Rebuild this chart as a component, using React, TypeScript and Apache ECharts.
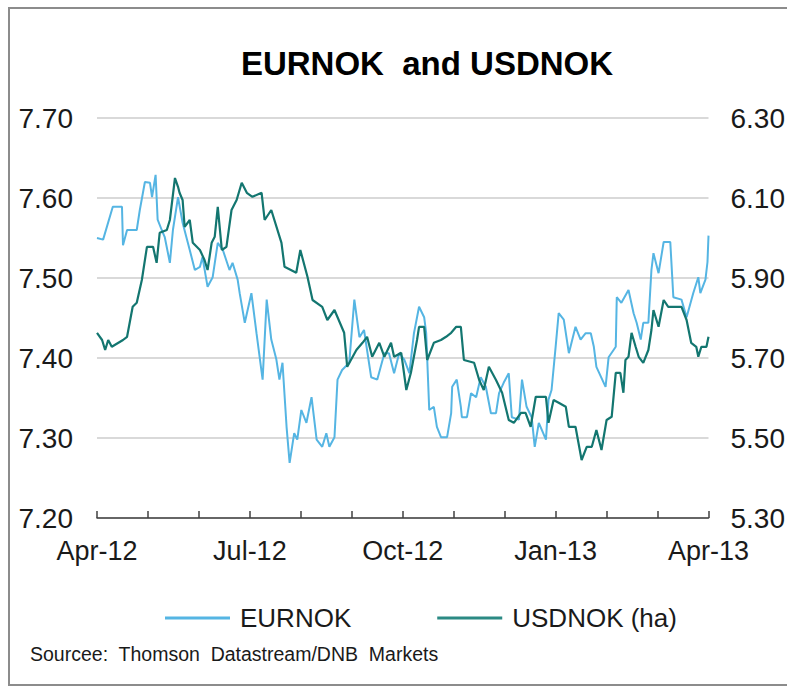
import React, { useEffect, useRef } from "react";
import * as echarts from "echarts";

// x positions are in months since start of Apr-12 (0 = Apr-12, 12 = Apr-13)
const monthLabels = ["Apr-12", "Jul-12", "Oct-12", "Jan-13", "Apr-13"];

const eurMonth = [
  0.0, 0.12, 0.31, 0.49, 0.51, 0.59, 0.78, 0.84, 0.94, 1.04, 1.08, 1.15, 1.19, 1.27, 1.33, 1.43, 1.49, 1.59, 1.68,
  1.82, 1.92, 2.02, 2.07, 2.17, 2.27, 2.37, 2.47, 2.6, 2.66, 2.76, 2.8, 2.9, 3.03, 3.13, 3.25, 3.33, 3.42, 3.52,
  3.58, 3.64, 3.72, 3.78, 3.87, 3.93, 4.01, 4.11, 4.21, 4.31, 4.42, 4.5, 4.56, 4.66, 4.72, 4.81, 4.95, 5.05, 5.15,
  5.24, 5.38, 5.5, 5.64, 5.73, 5.83, 5.93, 6.03, 6.13, 6.22, 6.32, 6.42, 6.46, 6.52, 6.61, 6.67, 6.75, 6.87, 6.95,
  6.97, 7.06, 7.14, 7.16, 7.26, 7.34, 7.44, 7.53, 7.63, 7.73, 7.83, 7.89, 7.98, 8.08, 8.14, 8.28, 8.34, 8.43, 8.53,
  8.59, 8.67, 8.81, 8.86, 8.92, 9.0, 9.06, 9.16, 9.26, 9.39, 9.49, 9.59, 9.69, 9.75, 9.8, 9.98, 10.04, 10.18, 10.2,
  10.29, 10.43, 10.53, 10.59, 10.67, 10.72, 10.82, 10.88, 10.92, 11.02, 11.12, 11.25, 11.31, 11.47, 11.57, 11.7,
  11.8, 11.84, 11.94, 11.98, 12.0,
];
const eurValue = [
  7.55, 7.548, 7.589, 7.589, 7.541, 7.56, 7.56, 7.585, 7.62, 7.619, 7.601, 7.629, 7.573, 7.56, 7.551, 7.519, 7.56,
  7.601, 7.569, 7.535, 7.51, 7.514, 7.526, 7.489, 7.501, 7.544, 7.535, 7.51, 7.519, 7.498, 7.481, 7.444, 7.481,
  7.431, 7.373, 7.473, 7.423, 7.398, 7.373, 7.394, 7.314, 7.269, 7.306, 7.298, 7.335, 7.319, 7.351, 7.298, 7.289,
  7.306, 7.289, 7.301, 7.373, 7.385, 7.394, 7.473, 7.426, 7.435, 7.376, 7.373, 7.406, 7.406, 7.381, 7.406, 7.398,
  7.381, 7.431, 7.464, 7.451, 7.431, 7.335, 7.339, 7.314, 7.301, 7.301, 7.331, 7.364, 7.373, 7.339, 7.326, 7.326,
  7.356, 7.351, 7.376, 7.364, 7.331, 7.331, 7.356, 7.369, 7.381, 7.326, 7.323, 7.373, 7.339, 7.326, 7.289, 7.319,
  7.298, 7.348, 7.36, 7.414, 7.456, 7.448, 7.406, 7.439, 7.423, 7.431, 7.431, 7.414, 7.389, 7.364, 7.401, 7.414,
  7.476, 7.469, 7.485, 7.456, 7.444, 7.423, 7.444, 7.444, 7.51, 7.531, 7.506, 7.545, 7.545, 7.476, 7.473, 7.451,
  7.481, 7.501, 7.481, 7.498, 7.52, 7.553,
];

const usdMonth = [
  0.0, 0.1, 0.16, 0.22, 0.29, 0.51, 0.59, 0.7, 0.78, 0.88, 0.98, 1.1, 1.17, 1.23, 1.37, 1.43, 1.53, 1.59, 1.62,
  1.68, 1.72, 1.82, 1.88, 2.02, 2.11, 2.17, 2.25, 2.31, 2.37, 2.45, 2.54, 2.64, 2.74, 2.84, 2.94, 3.05, 3.23, 3.29,
  3.42, 3.62, 3.68, 3.91, 3.99, 4.13, 4.23, 4.42, 4.52, 4.66, 4.85, 4.91, 5.09, 5.21, 5.3, 5.4, 5.54, 5.64, 5.77,
  5.83, 5.97, 6.07, 6.16, 6.28, 6.32, 6.42, 6.48, 6.61, 6.75, 6.85, 6.95, 7.05, 7.14, 7.2, 7.4, 7.5, 7.59, 7.69,
  7.83, 7.95, 8.08, 8.18, 8.32, 8.41, 8.51, 8.61, 8.81, 8.86, 8.96, 9.06, 9.2, 9.26, 9.39, 9.51, 9.61, 9.71, 9.8,
  9.9, 10.0, 10.1, 10.18, 10.27, 10.33, 10.37, 10.43, 10.49, 10.57, 10.63, 10.72, 10.82, 10.88, 10.92, 11.02, 11.12,
  11.21, 11.47, 11.57, 11.66, 11.76, 11.8, 11.86, 11.96, 12.0,
];
const usdValue = [
  5.763, 5.745, 5.72, 5.745, 5.728, 5.745, 5.753, 5.828, 5.838, 5.895, 5.978, 5.978, 5.938, 6.013, 6.02, 6.045,
  6.15, 6.128, 6.113, 6.095, 6.028, 6.045, 5.988, 5.97, 5.945, 5.92, 5.988, 6.003, 6.078, 5.97, 5.978, 6.07, 6.095,
  6.138, 6.113, 6.103, 6.113, 6.045, 6.07, 5.988, 5.928, 5.913, 5.97, 5.903, 5.845, 5.828, 5.795, 5.82, 5.763,
  5.678, 5.72, 5.738, 5.753, 5.703, 5.738, 5.703, 5.738, 5.703, 5.713, 5.62, 5.663, 5.745, 5.778, 5.778, 5.695,
  5.738, 5.745, 5.753, 5.763, 5.778, 5.778, 5.695, 5.688, 5.645, 5.62, 5.678, 5.645, 5.613, 5.545, 5.538, 5.563,
  5.563, 5.528, 5.603, 5.603, 5.538, 5.595, 5.588, 5.578, 5.528, 5.528, 5.445, 5.478, 5.478, 5.52, 5.47, 5.545,
  5.553, 5.663, 5.663, 5.613, 5.695, 5.703, 5.763, 5.728, 5.703, 5.688, 5.72, 5.77, 5.82, 5.778, 5.845, 5.828,
  5.828, 5.795, 5.738, 5.728, 5.703, 5.728, 5.728, 5.753,
];

const FONT = "'Liberation Sans', Arial, sans-serif";
const TEXT = "#1a1a1a";

export default function App() {
  const ref = useRef<HTMLDivElement>(null);

  useEffect(() => {
    if (!ref.current) return;
    const chart = echarts.init(ref.current, undefined, { renderer: "svg", width: 788, height: 687 });
    const eurData = eurMonth.map((m, i) => [m, eurValue[i]]);
    const usdData = usdMonth.map((m, i) => [m, usdValue[i]]);

    chart.setOption({
      animation: false,
      backgroundColor: "#ffffff",
      textStyle: { fontFamily: FONT, color: TEXT },
      grid: { left: 97, right: 78, top: 118, bottom: 169, containLabel: false },
      legend: {
        left: 160,
        top: 600,
        icon: "rect",
        itemWidth: 65,
        itemHeight: 3,
        itemGap: 86,
        textStyle: { fontFamily: FONT, fontSize: 26, color: TEXT, padding: [0, 0, 0, 5] },
        data: ["EURNOK", "USDNOK (ha)"],
      },
      xAxis: {
        type: "value",
        min: 0,
        max: 12,
        interval: 1,
        axisLine: { show: true, lineStyle: { color: "#404040", width: 1.5 } },
        axisTick: { show: true, inside: true, length: 7, lineStyle: { color: "#404040", width: 1.5 } },
        splitLine: { show: false },
        axisLabel: {
          show: true,
          showMinLabel: true,
          showMaxLabel: true,
          margin: 19,
          fontSize: 27,
          fontFamily: FONT,
          color: TEXT,
          formatter: (v: number) => {
            const i = Math.round(v);
            return i % 3 === 0 ? monthLabels[i / 3] : "";
          },
        },
      },
      yAxis: [
        {
          type: "value",
          min: 7.2,
          max: 7.7,
          interval: 0.1,
          axisLine: { show: false },
          axisTick: { show: false },
          splitLine: { show: true, lineStyle: { color: "#d9d9d9", width: 2 } },
          axisLabel: {
            margin: 24,
            fontSize: 28,
            fontFamily: FONT,
            color: TEXT,
            formatter: (v: number) => v.toFixed(2),
          },
        },
        {
          type: "value",
          min: 5.3,
          max: 6.3,
          interval: 0.2,
          position: "right",
          axisLine: { show: false },
          axisTick: { show: false },
          splitLine: { show: false },
          axisLabel: {
            margin: 22,
            fontSize: 28,
            fontFamily: FONT,
            color: TEXT,
            formatter: (v: number) => v.toFixed(2),
          },
        },
      ],
      series: [
        {
          name: "EURNOK",
          type: "line",
          yAxisIndex: 0,
          data: eurData,
          showSymbol: false,
          symbol: "none",
          lineStyle: { color: "#55B5E3", width: 2 },
          itemStyle: { color: "#55B5E3" },
          z: 2,
        },
        {
          name: "USDNOK (ha)",
          type: "line",
          yAxisIndex: 1,
          data: usdData,
          showSymbol: false,
          symbol: "none",
          lineStyle: { color: "#137670", width: 2.2 },
          itemStyle: { color: "#2B8A84" },
          z: 3,
        },
      ],
      graphic: [
        {
          type: "polyline",
          shape: { points: [[787, 8], [9, 8], [9, 685], [787, 685]] },
          style: { fill: "none", stroke: "#8c8c8c", lineWidth: 2 },
          silent: true,
        },
        {
          type: "text",
          x: 427,
          y: 63,
          style: {
            text: "EURNOK  and USDNOK",
            fontFamily: FONT,
            fontSize: 33,
            fontWeight: "bold",
            fill: "#000",
            textAlign: "center",
            textVerticalAlign: "middle",
          },
        },
        {
          type: "text",
          left: 30,
          top: 644,
          style: {
            text: "Sourcee:  Thomson  Datastream/DNB  Markets",
            fontFamily: FONT,
            fontSize: 19.5,
            fill: TEXT,
          },
        },
      ],
    });

    return () => chart.dispose();
  }, []);

  return (
    <div
      ref={ref}
      style={{
        position: "fixed",
        left: 0,
        top: 0,
        width: 788,
        height: 687,
        overflow: "hidden",
        background: "#fff",
      }}
    />
  );
}
